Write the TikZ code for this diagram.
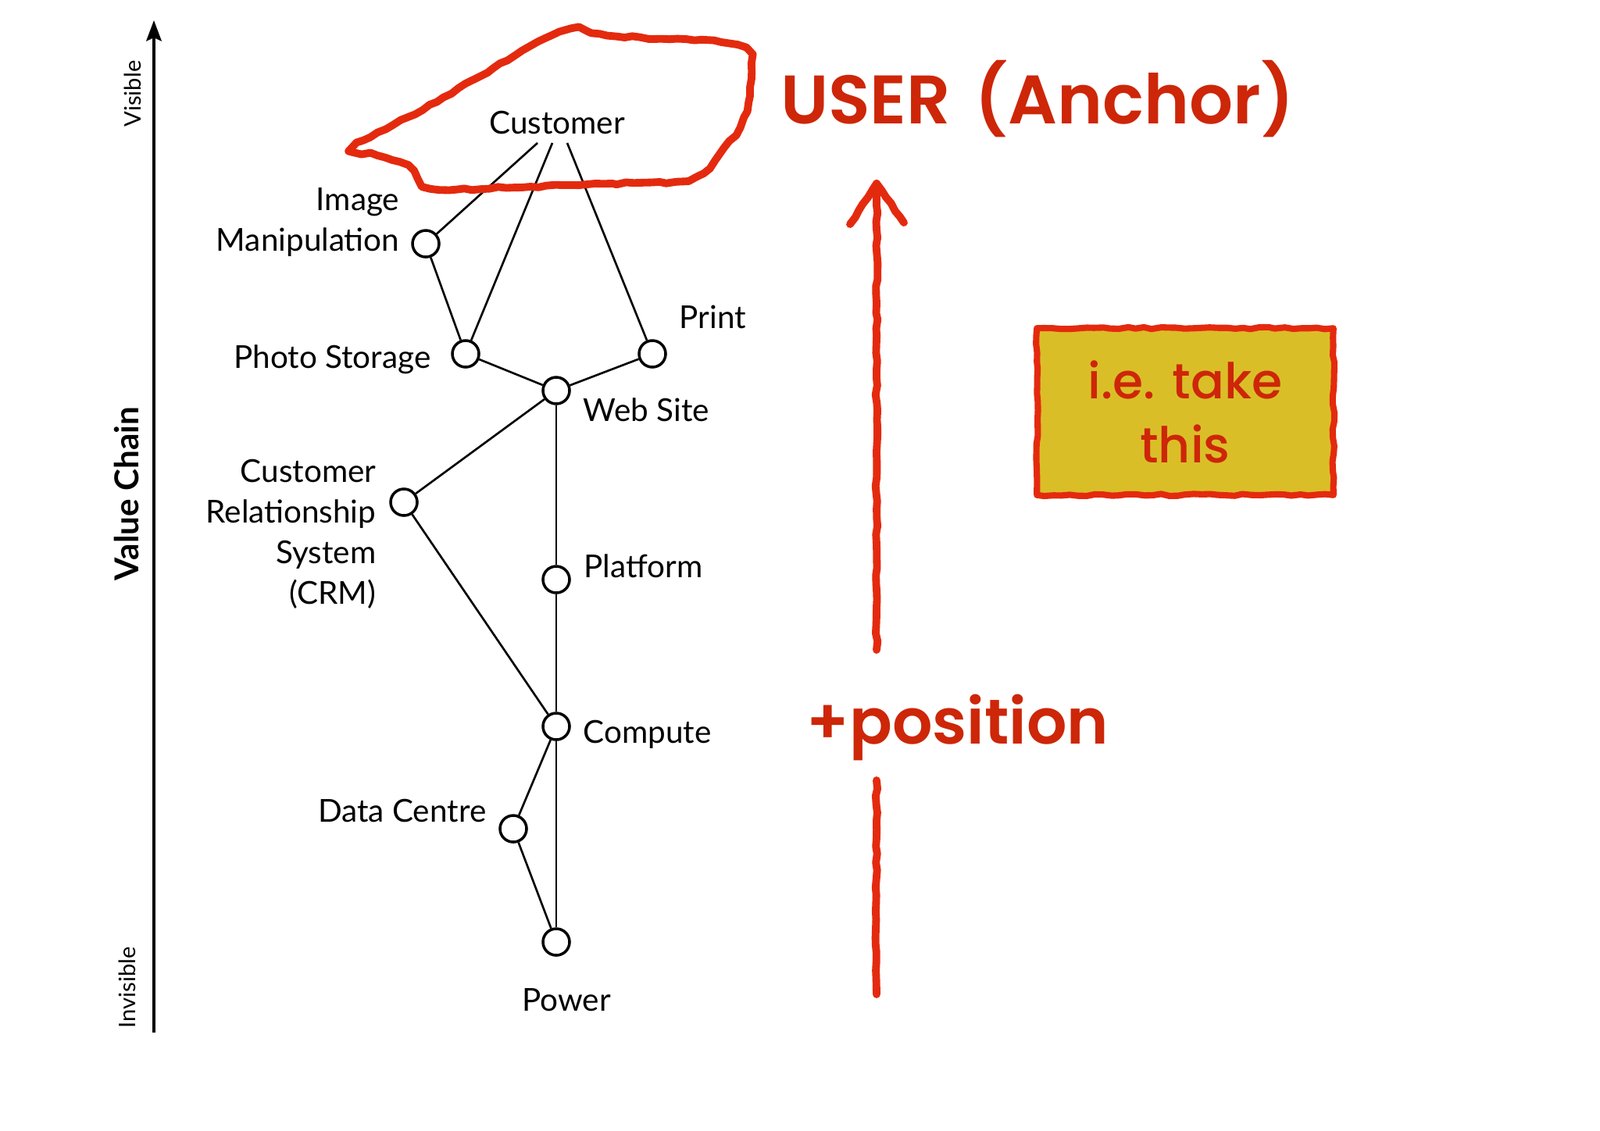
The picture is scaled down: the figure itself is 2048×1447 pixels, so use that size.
\documentclass[tikz,border=0pt]{standalone}
\usepackage{fontspec}
\setmainfont{Lato}
\newfontfamily\handfont{Poppins SemiBold}
\newfontfamily\handmed{Poppins Medium}
\usetikzlibrary{arrows.meta,decorations.pathmorphing,calc}
\definecolor{pen}{RGB}{228,42,14}
\definecolor{inkred}{RGB}{205,38,8}
\definecolor{mustard}{RGB}{218,190,40}
\begin{document}
\begin{tikzpicture}[x=0.01cm,y=-0.01cm,
  comp/.style={circle,draw,line width=1pt,minimum size=0.34cm,inner sep=0pt,fill=white},
  lbl/.style={font=\fontsize{11.5}{14.8}\selectfont,inner sep=0pt},
  axlbl/.style={rotate=90,inner sep=0pt,font=\fontsize{8.3}{10}\selectfont},
  link/.style={line width=0.75pt},
  pencil/.style={draw=pen,line width=2.8pt,line join=round,line cap=round,
    decorate,decoration={random steps,segment length=3pt,amplitude=0.4pt}},
  hand/.style={text=inkred,inner sep=0pt},
]
\useasboundingbox (0,0) rectangle (2048,1447);
\fill[white] (0,0) rectangle (2048,1447);

% value chain axis
\coordinate (axB) at (197,1322);
\coordinate (axT) at (197,26);
\draw[line width=1.2pt,-{Stealth[length=7.5pt,width=5.5pt,inset=1.2pt]}] (axB) -- (axT);
\node[axlbl] (vis) at (170,120) {Visible};
\node[axlbl,font=\bfseries\fontsize{12}{14}\selectfont] (vc) at (162,632) {Value Chain};
\node[axlbl] (invis) at (163,1264) {Invisible};

% components
\node[lbl] (cust) at (713,157) {Customer};
\coordinate (c1) at (688,183);
\coordinate (c2) at (707,183);
\coordinate (c3) at (726,183);

\node[comp] (im)  at (545,312) {};
\node[comp] (ps)  at (596,453) {};
\node[comp] (pr)  at (835,453) {};
\node[comp] (ws)  at (712,500) {};
\node[comp] (crm) at (517,643) {};
\node[comp] (pf)  at (712,742) {};
\node[comp] (cp)  at (712,930) {};
\node[comp] (dc)  at (657,1061) {};
\node[comp] (pw)  at (712,1206) {};

\node[lbl,anchor=mid east] (imA) at (512,261) {Image};
\node[lbl,anchor=mid east] (imB) at (512,313) {Manipulation};
\node[lbl,anchor=mid east] (psL) at (552,463) {Photo Storage};
\node[lbl,anchor=mid west] (prL) at (869,412) {Print};
\node[lbl,anchor=mid west] (wsL) at (746,531) {Web Site};
\node[lbl,anchor=north east,align=right] (crmL) at (482,587) {Customer\\Relationship\\System\\(CRM)};
\node[lbl,anchor=mid west] (pfL) at (747,731) {Platform};
\node[lbl,anchor=mid west] (cpL) at (746,943) {Compute};
\node[lbl,anchor=mid east] (dcL) at (623,1044) {Data Centre};
\node[lbl,anchor=mid] (pwL) at (725,1286) {Power};

\draw[link] (c1) -- (im);
\draw[link] (c2) -- (ps);
\draw[link] (c3) -- (pr);
\draw[link] (im) -- (ps);
\draw[link] (ps) -- (ws);
\draw[link] (pr) -- (ws);
\draw[link] (ws) -- (crm);
\draw[link] (ws) -- (pf);
\draw[link] (crm) -- (cp);
\draw[link] (pf) -- (cp);
\draw[link] (cp) -- (dc);
\draw[link] (cp) -- (pw);
\draw[link] (dc) -- (pw);

% red annotations
\draw[pencil] plot[smooth cycle,tension=0.45] coordinates {
  (448,191) (522,150) (614,98) (679,59) (731,37) (757,42) (836,50) (914,52)
  (955,62) (962,91) (958,131) (947,163) (927,189) (908,215) (875,232)
  (784,235) (679,239) (562,243) (542,235) (522,212) (483,199)};

\node[hand,font=\handfont\fontsize{25}{30}\selectfont] (user) at (1328,127) {USER\hspace{0.35em}(Anchor)};

\coordinate (ab) at (1122,1273);
\coordinate (g1) at (1122,999);
\coordinate (g2) at (1122,832);
\coordinate (at) at (1122,235);
\coordinate (al) at (1088,287);
\coordinate (ar) at (1157,285);
\draw[pencil] (ab) -- (g1);
\draw[pencil] (g2) -- (at);
\draw[pencil] (al) -- (at) -- (ar);

\node[hand,font=\handfont\fontsize{23}{28}\selectfont] (pos) at (1226,931) {+position};

\node[fill=mustard,minimum width=3.78cm,minimum height=2.12cm,inner sep=0pt] (box) at (1517,527) {};
\draw[pencil,line width=2.3pt] (box.north west) rectangle (box.south east);
\node[hand,align=center,font=\handmed\fontsize{18}{23.3}\selectfont] (boxt) at (box.center) {i.e. take\\this};
\end{tikzpicture}
\end{document}
